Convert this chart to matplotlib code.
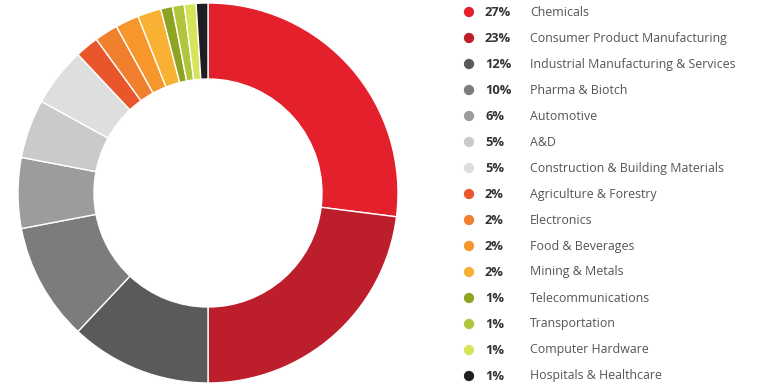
import matplotlib
matplotlib.use("Agg")
import matplotlib.pyplot as plt

categories = ["Chemicals", "Consumer Product Manufacturing", "Industrial Manufacturing & Services",
              "Pharma & Biotch", "Automotive", "A&D", "Construction & Building Materials",
              "Agriculture & Forestry", "Electronics", "Food & Beverages", "Mining & Metals",
              "Telecommunications", "Transportation", "Computer Hardware", "Hospitals & Healthcare"]
values = [27, 23, 12, 10, 6, 5, 5, 2, 2, 2, 2, 1, 1, 1, 1]
colors = ["#E3202B", "#BD1E2C", "#5A5A5C", "#7C7C7E", "#9C9C9E", "#CACACB", "#DEDEDF",
          "#E9562B", "#F07F2E", "#F6962B", "#F8B133", "#8EA321", "#B0C53B", "#D6E45A", "#1E1E22"]

plt.rcParams['font.family'] = ['Open Sans', 'DejaVu Sans']

fig = plt.figure(figsize=(7.68, 3.89), dpi=100)
W, H = 768, 389
cx, cy, R = 208, 193, 190
ax = fig.add_axes([(cx - R) / W, (H - cy - R) / H, 2 * R / W, 2 * R / H])
ax.pie(values, colors=colors, startangle=90, counterclock=False, radius=1,
       wedgeprops=dict(width=0.4, edgecolor="white", linewidth=1))
ax.set_xlim(-1, 1)
ax.set_ylim(-1, 1)
ax.set_aspect("auto")
ax.axis("off")

lg = fig.add_axes([0, 0, 1, 1])
lg.set_xlim(0, W)
lg.set_ylim(H, 0)
lg.axis("off")
y0, dy = 12, 26
for i, (cat, v, c) in enumerate(zip(categories, values, colors)):
    y = y0 + dy * i
    lg.scatter([469], [y], s=55, color=c, edgecolors="none")
    lg.text(485, y, f"{v}%", fontsize=9.3, fontweight="bold", color="#333333", va="center", ha="left")
    lg.text(530, y, cat, fontsize=8.95, color="#555555", va="center", ha="left")

fig.savefig("out.png", dpi=100)
